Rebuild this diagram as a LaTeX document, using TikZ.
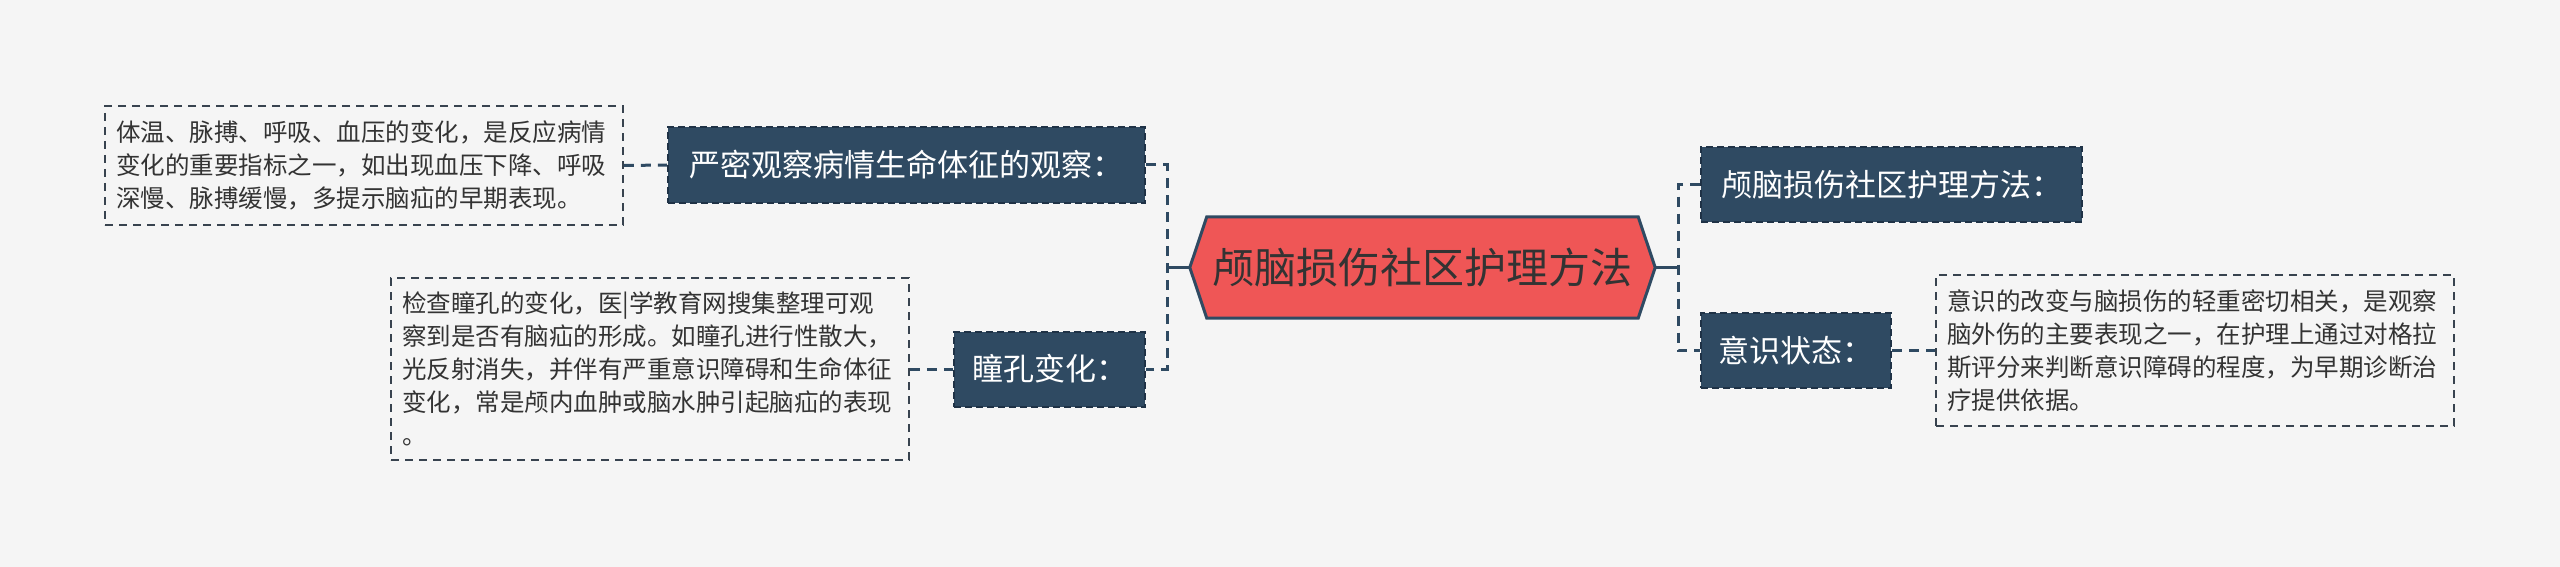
\documentclass[tikz,border=0pt]{standalone}
\usepackage{fontspec}
\setmainfont{Noto Sans CJK SC}
\definecolor{bgc}{HTML}{F5F5F5}
\definecolor{slate}{HTML}{2F4A62}
\definecolor{slatedk}{HTML}{1F3246}
\definecolor{redf}{HTML}{EF5656}
\definecolor{txt}{HTML}{333333}
\definecolor{boxline}{HTML}{38434F}
\pgfdeclarelayer{back}
\pgfsetlayers{back,main}
\tikzset{
  topic/.style={fill=slate, draw=slatedk, dash pattern=on 7pt off 4pt, line width=2pt,
    text=white, font=\fontsize{31}{36}\selectfont, inner sep=0pt, minimum height=75pt},
  note/.style={draw=boxline, dash pattern=on 8pt off 6pt, line width=1.8pt, text=txt,
    font=\fontsize{24.5}{33}\selectfont, inner sep=0pt, align=left, text width=496pt,
    minimum width=518pt},
  hexnode/.style={inner sep=0pt, minimum width=465pt, minimum height=101pt, text=txt,
    font=\fontsize{42}{48}\selectfont},
  conn/.style={draw=slate, line width=3pt, dash pattern=on 10pt off 7pt},
  stub/.style={draw=slate, line width=3pt},
}
\begin{document}
\begin{tikzpicture}[x=1pt,y=-1pt]
\begin{pgfonlayer}{back}
  \fill[bgc] (0,0) rectangle (2560,567);
\end{pgfonlayer}
\useasboundingbox (0,0) rectangle (2560,567);

% central node
\node[hexnode] (hex) at (1422.5,267.5) {颅脑损伤社区护理方法};
\begin{pgfonlayer}{back}
  \filldraw[fill=redf, draw=slate, line width=3pt, line join=miter]
    (hex.west) -- ([xshift=17pt]hex.north west) -- ([xshift=-17pt]hex.north east)
    -- (hex.east) -- ([xshift=-17pt]hex.south east) -- ([xshift=17pt]hex.south west) -- cycle;
\end{pgfonlayer}

% left topics
\node[topic, minimum width=477pt] (lt) at (906.5,165) {严密观察病情生命体征的观察：};
\node[topic, minimum width=191pt] (lb) at (1049.5,369) {瞳孔变化：};
% right topics
\node[topic, minimum width=381pt] (rt) at (1891.5,184.5) {颅脑损伤社区护理方法：};
\node[topic, minimum width=190pt] (rb) at (1796,350.5) {意识状态：};

% notes
\node[note, minimum height=119pt] (tb1) at (364,165.5) {体温、脉搏、呼吸、血压的变化，是反应病情\\变化的重要指标之一，如出现血压下降、呼吸\\深慢、脉搏缓慢，多提示脑疝的早期表现。};
\node[note, minimum height=182pt] (tb2) at (650,369) {检查瞳孔的变化，医|学教育网搜集整理可观\\察到是否有脑疝的形成。如瞳孔进行性散大，\\光反射消失，并伴有严重意识障碍和生命体征\\变化，常是颅内血肿或脑水肿引起脑疝的表现\\。};
\node[note, minimum height=151pt] (tb3) at (2195,350.5) {意识的改变与脑损伤的轻重密切相关，是观察\\脑外伤的主要表现之一，在护理上通过对格拉\\斯评分来判断意识障碍的程度，为早期诊断治\\疗提供依据。};

% trunks
\coordinate (trL) at (1167,267.5);
\coordinate (trR) at (1678,267.5);
\draw[stub] (hex.west) -- (trL);
\draw[stub] (hex.east) -- (trR);
\draw[conn] (lt.east) -| (trL) |- (lb.east);
\draw[conn] (rt.west) -| (trR) |- (rb.west);

% note connectors
\draw[conn] (tb1.east) -- (lt.west);
\draw[conn] (tb2.east) -- (lb.west);
\draw[conn] (rb.east) -- (tb3.west);
\end{tikzpicture}
\end{document}
